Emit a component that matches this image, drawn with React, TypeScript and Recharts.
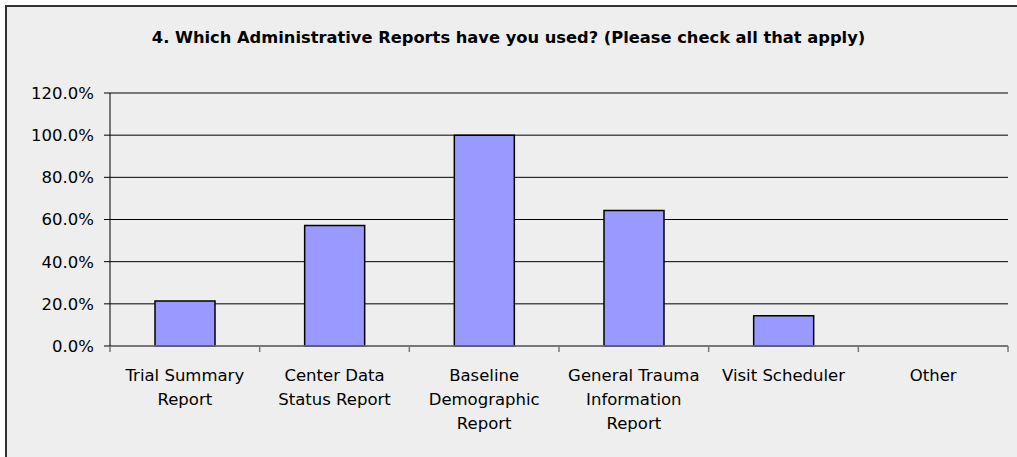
import React from 'react';
import { BarChart, Bar, XAxis, YAxis, CartesianGrid } from 'recharts';

const categories = [
  'Trial Summary Report',
  'Center Data Status Report',
  'Baseline Demographic Report',
  'General Trauma Information Report',
  'Visit Scheduler',
  'Other',
];

const tickLines = [
  ['Trial Summary', 'Report'],
  ['Center Data', 'Status Report'],
  ['Baseline', 'Demographic', 'Report'],
  ['General Trauma', 'Information', 'Report'],
  ['Visit Scheduler'],
  ['Other'],
];

const shares = [0.214, 0.571, 1.0, 0.643, 0.143, 0];

const yTicks = [0, 0.2, 0.4, 0.6, 0.8, 1.0, 1.2];

const data = categories.map((name, i) => ({ name, value: shares[i] }));

const FONT = '"DejaVu Sans", Tahoma, sans-serif';

const CategoryTick = (props: any) => {
  const { x, y, payload, index } = props;
  const half = payload && payload.offset ? payload.offset : 74.8;
  const lines = tickLines[index] || [];
  return (
    <g>
      <line x1={x - half} x2={x - half} y1={y} y2={y + 6} stroke="#777" strokeWidth={1.5} />
      {index === categories.length - 1 && (
        <line x1={x + half} x2={x + half} y1={y} y2={y + 6} stroke="#777" strokeWidth={1.5} />
      )}
      <text x={x} y={y} textAnchor="middle" fontFamily={FONT} fontSize={16.5} fill="#000">
        {lines.map((l, i) => (
          <tspan key={i} x={x} dy={i === 0 ? 35 : 24}>
            {l}
          </tspan>
        ))}
      </text>
    </g>
  );
};

const App = () => {
  return (
    <div
      style={{
        position: 'fixed',
        left: 0,
        top: 0,
        width: 1017,
        height: 457,
        overflow: 'hidden',
        background: '#fff',
      }}
    >
      <div
        style={{
          position: 'absolute',
          left: 5,
          top: 5,
          width: 1030,
          height: 470,
          background: '#eeeeee',
          borderTop: '2px solid #333',
          borderLeft: '2px solid #333',
        }}
      />
      <div
        style={{
          position: 'absolute',
          left: 0,
          top: 28,
          width: 1017,
          textAlign: 'center',
          fontFamily: FONT,
          fontWeight: 'bold',
          fontSize: 16.3,
          color: '#000',
        }}
      >
        4. Which Administrative Reports have you used? (Please check all that apply)
      </div>
      <div style={{ position: 'absolute', left: 0, top: 0 }}>
        <BarChart
          width={1017}
          height={457}
          data={data}
          margin={{ top: 93, right: 9, left: 0, bottom: 0 }}
        >
          <CartesianGrid vertical={false} stroke="#000" strokeWidth={1} />
          <XAxis
            dataKey="name"
            height={111}
            interval={0}
            tickSize={0}
            tickMargin={0}
            axisLine={{ stroke: '#777', strokeWidth: 1.5 }}
            tick={<CategoryTick />}
          />
          <YAxis
            width={110}
            domain={[0, 1.2]}
            ticks={yTicks}
            interval={0}
            tickSize={6}
            tickMargin={10}
            axisLine={{ stroke: '#000' }}
            tickLine={{ stroke: '#000' }}
            tickFormatter={(v: number) => (v * 100).toFixed(1) + '%'}
            tick={{ fill: '#000', fontFamily: FONT, fontSize: 16.5 }}
          />
          <Bar
            dataKey="value"
            fill="#9999ff"
            stroke="#000"
            strokeWidth={1.5}
            barSize={60}
            isAnimationActive={false}
          />
        </BarChart>
      </div>
    </div>
  );
};

export default App;
